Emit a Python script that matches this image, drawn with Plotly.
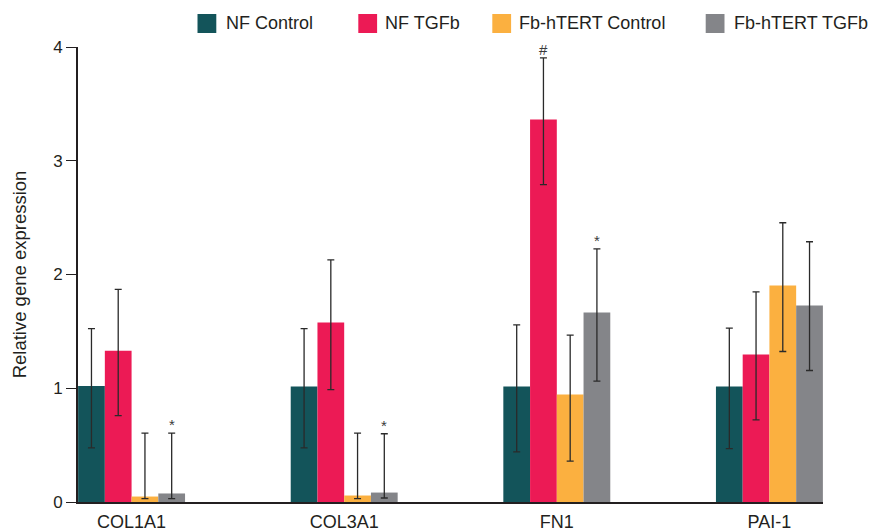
import plotly.graph_objects as go

genes = ["COL1A1", "COL3A1", "FN1", "PAI-1"]
series = ["NF Control", "NF TGFb", "Fb-hTERT Control", "Fb-hTERT TGFb"]
colors = ["#13545A", "#EC1A55", "#FBB040", "#848589"]

nf_control = [1.02, 1.015, 1.015, 1.015]
nf_tgfb = [1.33, 1.578, 3.363, 1.297]
fb_control = [0.048, 0.057, 0.945, 1.903]
fb_tgfb = [0.075, 0.083, 1.666, 1.728]

nf_control_err_plus = [0.505, 0.51, 0.543, 0.513]
nf_control_err_minus = [0.545, 0.54, 0.574, 0.545]
nf_tgfb_err_plus = [0.54, 0.55, 0.542, 0.551]
nf_tgfb_err_minus = [0.57, 0.59, 0.573, 0.575]
fb_control_err_plus = [0.557, 0.548, 0.522, 0.552]
fb_control_err_minus = [0.018, 0.027, 0.586, 0.58]
fb_tgfb_err_plus = [0.53, 0.517, 0.56, 0.56]
fb_tgfb_err_minus = [0.045, 0.048, 0.604, 0.572]

values = [nf_control, nf_tgfb, fb_control, fb_tgfb]
err_plus = [nf_control_err_plus, nf_tgfb_err_plus, fb_control_err_plus, fb_tgfb_err_plus]
err_minus = [nf_control_err_minus, nf_tgfb_err_minus, fb_control_err_minus, fb_tgfb_err_minus]

# significance marks: (gene index, series index, symbol)
marks = [(0, 3, "*"), (1, 3, "*"), (2, 1, "#"), (2, 3, "*")]

FONT = "Liberation Sans, Arial, Helvetica, sans-serif"
TXT = "#231F20"

fig = go.Figure()
for name, col, v, ep, em in zip(series, colors, values, err_plus, err_minus):
    fig.add_trace(go.Bar(
        name=name, x=genes, y=v, marker=dict(color=col, line=dict(width=0)),
        error_y=dict(type="data", symmetric=False, array=ep, arrayminus=em,
                     color="#2A2A2A", thickness=1.3, width=3.5),
        showlegend=False,
    ))

n = len(series)
group_w = 1 - 0.497
bar_w = group_w / n
for gi, si, sym in marks:
    xpos = gi - group_w / 2 + bar_w * (si + 0.5)
    ytop = values[si][gi] + err_plus[si][gi]
    fig.add_annotation(x=xpos, y=ytop, text=sym, showarrow=False,
                       yanchor="bottom", yshift=-2,
                       font=dict(family=FONT, size=15, color="#3A3A3A"))

# legend (manual, to match reference layout)
L, R, T, B = 78, 46, 47, 29
W, H = 869 - L - R, 531 - T - B
def px(x):
    return (x - L) / W
def py(y):
    return (531 - B - y) / H

leg_sq = [197.5, 358.3, 492.3, 705.7]
leg_tx = [224.3, 382.7, 517.3, 731.7]
for name, col, sx, tx in zip(series, colors, leg_sq, leg_tx):
    fig.add_shape(type="rect", xref="paper", yref="paper",
                  x0=px(sx), x1=px(sx + 18.8), y0=py(33), y1=py(14),
                  fillcolor=col, line=dict(width=0))
    fig.add_annotation(xref="paper", yref="paper", x=px(tx), y=py(23.5),
                       text=name, showarrow=False, xanchor="left", yanchor="middle",
                       font=dict(family=FONT, size=18, color=TXT))

fig.update_layout(
    width=869, height=531,
    margin=dict(l=L, r=R, t=T, b=B, autoexpand=False),
    paper_bgcolor="white", plot_bgcolor="white",
    barmode="group", bargap=0.497, bargroupgap=0,
    font=dict(family=FONT, size=16, color=TXT),
    showlegend=False,
)
fig.update_xaxes(
    range=[-0.252, 3.252], showline=True, linecolor=TXT, linewidth=1.6,
    ticks="", showgrid=False, zeroline=False, automargin=False,
    tickfont=dict(size=18, color=TXT), ticklabelstandoff=3,
)
fig.update_yaxes(
    range=[0, 4], tickvals=[0, 1, 2, 3, 4], showline=True, linecolor=TXT, linewidth=1.6,
    ticks="outside", ticklen=10, tickwidth=1.4, tickcolor=TXT,
    showgrid=False, zeroline=False, automargin=False,
    tickfont=dict(size=17, color=TXT),
    title=dict(text="Relative gene expression", font=dict(size=18.5, color=TXT), standoff=22),
)

fig.write_html("out.html", config={"displayModeBar": False},
               post_script="document.body.style.margin='0px';document.body.style.overflow='hidden';")
